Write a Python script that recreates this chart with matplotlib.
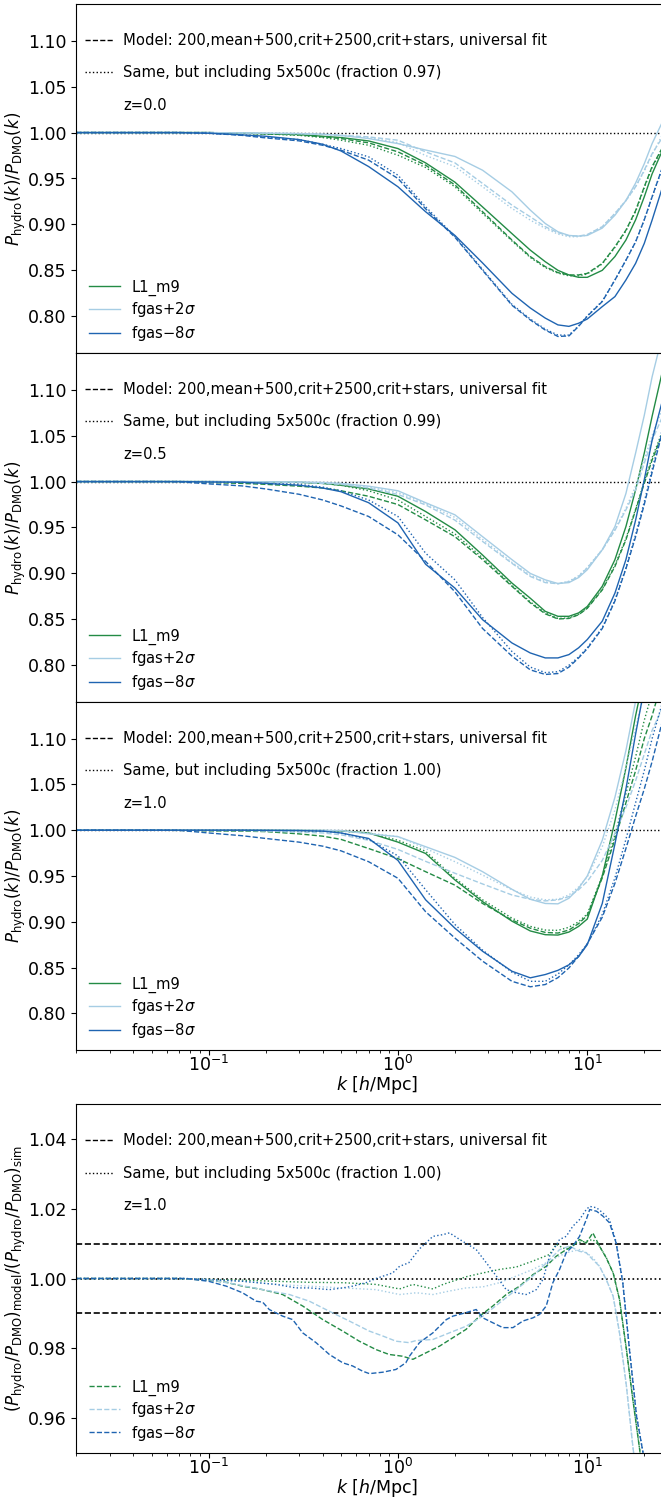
import matplotlib
matplotlib.use("Agg")
import matplotlib.pyplot as plt
from matplotlib.lines import Line2D

# ---------------------------------------------------------------- data
# common wavenumber grid for the three ratio panels [h/Mpc]
K = [0.02, 0.05, 0.07, 0.1, 0.15, 0.2, 0.3, 0.4, 0.5, 0.7, 1.0, 1.4, 2.0, 2.8,
     4.0, 5.0, 6.0, 7.0, 8.0, 9.0, 10, 12, 14, 16, 18, 20, 22, 25]

# z = 0.0 : simulation (solid), model (dashed), model incl. 5x500c (dotted)
Z00_SIM_L1 = [1.0, 1.0, 1.0, 1.0, 0.9993, 0.9989, 0.9978, 0.996, 0.9946, 0.9909, 0.9826, 0.967, 0.946, 0.919,
              0.890, 0.872, 0.8594, 0.850, 0.845, 0.8424, 0.8424, 0.850, 0.865, 0.883, 0.905, 0.930, 0.955, 0.981]
Z00_MOD_L1 = [1.0, 1.0, 1.0, 1.0, 0.9993, 0.9985, 0.9975, 0.9953, 0.9935, 0.9888, 0.979, 0.9645, 0.943, 0.9138,
              0.883, 0.865, 0.854, 0.8475, 0.845, 0.845, 0.8467, 0.8576, 0.8757, 0.8937, 0.915, 0.941, 0.963, 0.984]
Z00_M5C_L1 = [1.0, 1.0, 1.0, 1.0, 0.9993, 0.9985, 0.997, 0.9946, 0.9917, 0.9862, 0.9754, 0.962, 0.941, 0.912,
              0.882, 0.864, 0.853, 0.847, 0.844, 0.844, 0.846, 0.857, 0.875, 0.893, 0.914, 0.940, 0.962, 0.983]
Z00_SIM_P2 = [1.0, 1.0, 1.0, 1.0, 0.9996, 0.9993, 0.9989, 0.9982, 0.997, 0.9935, 0.988, 0.981, 0.974, 0.959,
              0.9355, 0.9156, 0.901, 0.892, 0.888, 0.8873, 0.888, 0.896, 0.910, 0.926, 0.945, 0.966, 0.988, 1.012]
Z00_MOD_P2 = [1.0, 1.0, 1.0, 1.0, 0.9996, 0.9993, 0.9989, 0.9982, 0.997, 0.9953, 0.9917, 0.979, 0.967, 0.9446,
              0.921, 0.9083, 0.8975, 0.891, 0.8877, 0.8873, 0.889, 0.8975, 0.912, 0.926, 0.941, 0.959, 0.977, 0.995]
Z00_M5C_P2 = [1.0, 1.0, 1.0, 1.0, 0.9996, 0.9993, 0.9989, 0.998, 0.9965, 0.9946, 0.989, 0.975, 0.963, 0.941,
              0.9174, 0.9047, 0.8957, 0.8895, 0.8866, 0.8866, 0.8885, 0.8975, 0.912, 0.926, 0.941, 0.958, 0.976, 0.998]
Z00_SIM_M8 = [1.0, 1.0, 1.0, 0.9993, 0.9975, 0.996, 0.9924, 0.9873, 0.980, 0.963, 0.941, 0.9138, 0.888, 0.858,
              0.825, 0.809, 0.798, 0.7906, 0.789, 0.7924, 0.797, 0.8105, 0.8214, 0.8395, 0.8576, 0.8793, 0.9047, 0.941]
Z00_MOD_M8 = [1.0, 1.0, 1.0, 0.9993, 0.997, 0.9942, 0.991, 0.9862, 0.9808, 0.970, 0.950, 0.917, 0.886, 0.850,
              0.812, 0.796, 0.785, 0.778, 0.7786, 0.789, 0.800, 0.816, 0.8395, 0.861, 0.881, 0.905, 0.930, 0.9627]
Z00_M5C_M8 = [1.0, 1.0, 1.0, 0.9993, 0.9975, 0.995, 0.9924, 0.9873, 0.9826, 0.9736, 0.9536, 0.9192, 0.887, 0.851,
              0.813, 0.797, 0.786, 0.7795, 0.7795, 0.7895, 0.8005, 0.8165, 0.8395, 0.861, 0.881, 0.905, 0.930, 0.962]

# z = 0.5
Z05_SIM_L1 = [1.0, 1.0, 1.0, 1.0, 0.9998, 0.9996, 0.9993, 0.998, 0.996, 0.992, 0.984, 0.9674, 0.9475, 0.920,
              0.8895, 0.873, 0.8587, 0.8533, 0.8533, 0.857, 0.864, 0.886, 0.915, 0.951, 0.991, 1.031, 1.071, 1.121]
Z05_MOD_L1 = [1.0, 1.0, 1.0, 0.999, 0.998, 0.997, 0.995, 0.993, 0.990, 0.984, 0.975, 0.9583, 0.940, 0.915,
              0.886, 0.868, 0.856, 0.8504, 0.851, 0.855, 0.862, 0.882, 0.9076, 0.9366, 0.969, 0.998, 1.0235, 1.0525]
Z05_M5C_L1 = [1.0, 1.0, 1.0, 1.0, 0.9996, 0.9993, 0.999, 0.998, 0.996, 0.990, 0.980, 0.962, 0.943, 0.917,
              0.887, 0.869, 0.857, 0.851, 0.8515, 0.8555, 0.8625, 0.883, 0.909, 0.938, 0.970, 1.0, 1.026, 1.055]
Z05_SIM_P2 = [1.0, 1.0, 1.0, 1.0, 1.0, 0.9998, 0.9996, 0.999, 0.998, 0.995, 0.990, 0.977, 0.9638, 0.940,
              0.915, 0.900, 0.893, 0.889, 0.890, 0.8955, 0.904, 0.9257, 0.951, 0.987, 1.031, 1.072, 1.114, 1.16]
Z05_MOD_P2 = [1.0, 1.0, 1.0, 1.0, 0.9996, 0.9993, 0.999, 0.998, 0.997, 0.993, 0.986, 0.9746, 0.958, 0.9348,
              0.911, 0.8967, 0.890, 0.8888, 0.891, 0.8967, 0.906, 0.9257, 0.947, 0.9692, 0.991, 1.020, 1.045, 1.071]
Z05_M5C_P2 = [1.0, 1.0, 1.0, 1.0, 0.9998, 0.9996, 0.9993, 0.999, 0.998, 0.994, 0.988, 0.976, 0.961, 0.937,
              0.912, 0.898, 0.891, 0.8888, 0.8915, 0.8975, 0.9065, 0.926, 0.948, 0.971, 0.995, 1.025, 1.05, 1.08]
Z05_SIM_M8 = [1.0, 1.0, 1.0, 0.9996, 0.9993, 0.998, 0.996, 0.993, 0.989, 0.977, 0.955, 0.910, 0.884, 0.8496,
              0.8243, 0.8134, 0.808, 0.808, 0.8116, 0.819, 0.828, 0.848, 0.8786, 0.915, 0.958, 1.002, 1.045, 1.089]
Z05_MOD_M8 = [1.0, 1.0, 0.9998, 0.9975, 0.9953, 0.992, 0.9862, 0.980, 0.9735, 0.962, 0.942, 0.913, 0.880, 0.840,
              0.810, 0.795, 0.790, 0.791, 0.798, 0.808, 0.818, 0.840, 0.870, 0.905, 0.94, 0.975, 1.01, 1.055]
Z05_M5C_M8 = [1.0, 1.0, 1.0, 0.9996, 0.999, 0.998, 0.997, 0.994, 0.990, 0.980, 0.962, 0.922, 0.893, 0.852,
              0.815, 0.798, 0.792, 0.793, 0.800, 0.809, 0.819, 0.841, 0.871, 0.906, 0.942, 0.978, 1.013, 1.058]

# z = 1.0
Z10_SIM_L1 = [1.0, 1.0, 1.0, 1.0, 1.0, 1.0, 0.9998, 0.9996, 0.9993, 0.997, 0.987, 0.9746, 0.9457, 0.922,
              0.9007, 0.890, 0.8859, 0.8855, 0.8888, 0.895, 0.903, 0.950, 1.010, 1.068, 1.125, 1.17, 1.21, 1.26]
Z10_MOD_L1 = [1.0, 1.0, 0.9998, 0.9993, 0.999, 0.9985, 0.996, 0.9935, 0.990, 0.980, 0.969, 0.9547, 0.940, 0.920,
              0.902, 0.893, 0.8884, 0.8877, 0.891, 0.898, 0.907, 0.948, 0.990, 1.030, 1.065, 1.10, 1.125, 1.165]
Z10_M5C_L1 = [1.0, 1.0, 1.0, 1.0, 1.0, 0.9998, 0.9996, 0.9993, 0.999, 0.997, 0.989, 0.977, 0.9475, 0.924,
              0.904, 0.895, 0.891, 0.8906, 0.894, 0.900, 0.9085, 0.950, 0.995, 1.04, 1.08, 1.12, 1.15, 1.19]
Z10_SIM_P2 = [1.0, 1.0, 1.0, 1.0, 1.0, 1.0, 1.0, 0.9998, 0.9996, 0.996, 0.993, 0.982, 0.9703, 0.9547,
              0.9355, 0.9246, 0.920, 0.9196, 0.9257, 0.9366, 0.950, 0.989, 1.036, 1.087, 1.141, 1.19, 1.24, 1.30]
Z10_MOD_P2 = [1.0, 1.0, 1.0, 0.9998, 0.9996, 0.999, 0.998, 0.997, 0.995, 0.989, 0.979, 0.966, 0.953, 0.9413,
              0.9293, 0.9246, 0.9228, 0.9239, 0.9275, 0.935, 0.944, 0.967, 0.9964, 1.025, 1.054, 1.083, 1.109, 1.134]
Z10_M5C_P2 = [1.0, 1.0, 1.0, 1.0, 1.0, 1.0, 1.0, 0.9998, 0.9996, 0.997, 0.993, 0.980, 0.9656, 0.951,
              0.935, 0.927, 0.924, 0.9246, 0.9293, 0.938, 0.949, 0.982, 1.022, 1.069, 1.112, 1.15, 1.19, 1.25]
Z10_SIM_M8 = [1.0, 1.0, 1.0, 1.0, 1.0, 0.9998, 0.9996, 0.999, 0.997, 0.991, 0.967, 0.924, 0.893, 0.8678,
              0.846, 0.8388, 0.8424, 0.847, 0.853, 0.862, 0.875, 0.920, 0.985, 1.045, 1.105, 1.155, 1.20, 1.25]
Z10_MOD_M8 = [1.0, 1.0, 0.9998, 0.997, 0.994, 0.991, 0.987, 0.9826, 0.9775, 0.9656, 0.9475, 0.911, 0.8822, 0.857,
              0.835, 0.829, 0.8315, 0.839, 0.8496, 0.8623, 0.876, 0.905, 0.942, 0.980, 1.015, 1.045, 1.075, 1.12]
Z10_M5C_M8 = [1.0, 1.0, 1.0, 1.0, 1.0, 0.9998, 0.9996, 0.999, 0.997, 0.990, 0.972, 0.935, 0.897, 0.869,
              0.845, 0.835, 0.835, 0.843, 0.853, 0.864, 0.876, 0.908, 0.948, 0.99, 1.03, 1.065, 1.10, 1.14]

# z = 1.0 : model / simulation, each curve on its own k sampling
RES_K_MOD_L1 = [0.02, 0.07, 0.1, 0.124, 0.151, 0.193, 0.246, 0.314, 0.401, 0.511, 0.625, 0.766, 0.897, 1.055,
                1.20, 1.41, 1.66, 1.95, 2.29, 2.70, 3.17, 3.73, 4.39, 5.16, 6.07, 6.86, 7.74, 8.39, 9.10, 9.88,
                10.7, 11.6, 12.6, 13.7, 14.8, 16.1, 17.4, 18.9, 20.5]
RES_MOD_L1 = [1.0, 1.0, 0.9995, 0.9989, 0.9978, 0.9968, 0.9954, 0.9921, 0.9882, 0.9849, 0.982, 0.9796, 0.9782,
              0.9777, 0.9768, 0.9787, 0.9806, 0.983, 0.9854, 0.9892, 0.9921, 0.9954, 0.9978, 1.0011, 1.0035,
              1.0064, 1.0083, 1.0093, 1.0112, 1.0102, 1.0131, 1.0093, 1.0059, 1.0016, 0.994, 0.9796, 0.9653,
              0.951, 0.935]
RES_K_M5C_L1 = [0.02, 0.07, 0.151, 0.227, 0.34, 0.511, 0.766, 1.02, 1.20, 1.53, 1.73, 2.29, 2.81, 3.44, 4.22,
                5.16, 6.32, 6.86, 7.74, 8.75, 9.88, 10.7, 11.6, 12.6, 13.7, 14.8, 16.1, 17.4, 18.9, 20.5]
RES_M5C_L1 = [1.0, 1.0, 0.9995, 0.9992, 0.9989, 0.9988, 0.9983, 0.997, 0.9983, 0.997, 0.9983, 1.0005, 1.0016,
              1.0026, 1.0033, 1.005, 1.0069, 1.0098, 1.0083, 1.0102, 1.0107, 1.0112, 1.0093, 1.006, 1.0016,
              0.994, 0.9796, 0.9653, 0.951, 0.935]
RES_K_MOD_P2 = [0.02, 0.07, 0.1, 0.14, 0.193, 0.267, 0.34, 0.434, 0.553, 0.706, 0.831, 0.977, 1.14, 1.25,
                1.53, 1.87, 2.29, 2.81, 3.44, 4.22, 5.16, 6.32, 7.14, 8.06, 9.10, 9.88, 10.7, 11.6, 12.6, 13.7,
                14.8, 16.1, 17.4, 18.5]
RES_MOD_P2 = [1.0, 1.0, 0.9997, 0.9983, 0.9968, 0.9954, 0.9935, 0.9906, 0.9878, 0.9849, 0.9835, 0.982, 0.9816,
              0.9822, 0.9825, 0.9844, 0.9863, 0.9892, 0.993, 0.9968, 1.0007, 1.0054, 1.0083, 1.0093, 1.0078,
              1.0074, 1.0054, 1.0035, 0.9997, 0.9949, 0.9844, 0.9691, 0.9519, 0.94]
RES_K_M5C_P2 = [0.02, 0.07, 0.151, 0.227, 0.34, 0.511, 0.766, 1.02, 1.25, 1.53, 1.87, 2.29, 2.81, 3.44,
                4.22, 5.16, 6.32, 7.74, 9.10, 9.88, 10.7, 11.6, 12.6, 13.7, 14.8, 16.1, 17.4, 18.5]
RES_M5C_P2 = [1.0, 1.0, 0.9992, 0.9983, 0.9978, 0.9973, 0.9968, 0.9954, 0.9959, 0.9954, 0.9964, 0.9973,
              0.9976, 0.9988, 1.0007, 1.0026, 1.005, 1.0074, 1.0083, 1.0074, 1.006, 1.0035, 0.9997, 0.9949,
              0.9844, 0.9691, 0.9519, 0.94]
RES_K_MOD_M8 = [0.02, 0.076, 0.1, 0.124, 0.151, 0.178, 0.193, 0.209, 0.246, 0.278, 0.314, 0.369, 0.434, 0.511,
                0.576, 0.651, 0.706, 0.831, 0.977, 1.10, 1.15, 1.30, 1.53, 1.80, 1.95, 2.29, 2.59, 2.81, 3.17,
                3.58, 4.05, 4.57, 5.16, 5.60, 6.07, 6.58, 7.14, 7.74, 8.39, 9.10, 9.88, 10.3, 11.2, 12.1, 13.1,
                14.2, 15.4, 16.7, 18.2, 19.7, 21.0]
RES_MOD_M8 = [1.0, 1.0, 0.9992, 0.9978, 0.9959, 0.9935, 0.9932, 0.9911, 0.9892, 0.9882, 0.9844, 0.9816,
              0.9782, 0.9758, 0.9749, 0.9734, 0.9727, 0.9731, 0.9739, 0.9758, 0.9777, 0.9816, 0.9844, 0.9882,
              0.9892, 0.9902, 0.9911, 0.9887, 0.9873, 0.9859, 0.9859, 0.9878, 0.9887, 0.9897, 0.9921, 0.9988,
              1.0026, 1.0074, 1.0093, 1.0121, 1.0169, 1.0198, 1.0193, 1.0179, 1.016, 1.0102, 0.9988, 0.9796,
              0.9605, 0.95, 0.94]
RES_K_M5C_M8 = [0.02, 0.076, 0.1, 0.151, 0.227, 0.29, 0.34, 0.434, 0.511, 0.576, 0.678, 0.766, 0.938, 1.02,
                1.14, 1.30, 1.53, 1.73, 1.87, 2.12, 2.59, 2.93, 3.31, 3.73, 4.22, 4.76, 5.38, 5.83, 6.32, 7.14,
                7.74, 8.39, 9.10, 9.88, 10.3, 11.2, 12.1, 13.1, 14.2, 15.4, 16.7, 18.2, 19.7, 21.0]
RES_M5C_M8 = [1.0, 1.0, 0.9997, 0.9992, 0.9983, 0.9973, 0.9973, 0.9968, 0.9973, 0.9978, 0.9988, 1.0, 1.0016,
              1.0035, 1.0045, 1.0085, 1.0121, 1.0126, 1.0131, 1.0112, 1.0083, 1.0045, 1.0007, 0.9968, 0.9959,
              0.9954, 0.9968, 0.9997, 1.0064, 1.0112, 1.0121, 1.015, 1.0169, 1.0198, 1.0207, 1.0203, 1.0188,
              1.0169, 1.0105, 0.999, 0.9798, 0.9607, 0.95, 0.94]

SIM_NAMES = ["L1_m9", "fgas$+2\\sigma$", "fgas$-8\\sigma$"]
COLORS = ["#238b45", "#a6cde4", "#1f64b1"]
FRACTIONS = ["0.97", "0.99", "1.00"]
REDSHIFTS = ["z=0.0", "z=0.5", "z=1.0"]
MODEL_LABEL = "Model: 200,mean+500,crit+2500,crit+stars, universal fit"
M5C_LABEL = "Same, but including 5x500c (fraction {})"

# ---------------------------------------------------------------- style
W, H, DPI = 661, 1499, 100
LW = 1.0
TICK_FS = 12.5
LEG_FS = 10.6
LABEL_FS = 12.0

fig = plt.figure(figsize=(W / DPI, H / DPI), dpi=DPI)

left = 76.3 / W
width = 601.3 / W          # k from 0.02 to 30 (axes run past the right edge)


def axes_from_px(top_px, bottom_px):
    return fig.add_axes([left, 1 - bottom_px / H, width, (bottom_px - top_px) / H])


def style_axes(ax, ylim, yticks):
    ax.set_xscale("log")
    ax.set_xlim(0.02, 30)
    ax.set_ylim(*ylim)
    ax.set_yticks(yticks)
    ax.tick_params(which="both", labelsize=TICK_FS, top=False, right=False)
    ax.tick_params(axis="x", which="major", pad=0.2)
    ax.spines["right"].set_visible(False)


def top_legend(ax, frac, zlab):
    handles = [Line2D([], [], color="k", ls="--", lw=LW),
               Line2D([], [], color="k", ls=":", lw=LW),
               Line2D([], [], ls="none")]
    labels = [MODEL_LABEL, M5C_LABEL.format(frac), zlab]
    leg = ax.legend(handles, labels, loc="upper left", bbox_to_anchor=(0.004, 0.934),
                    frameon=False, fontsize=LEG_FS, labelspacing=1.19, handlelength=2.0,
                    handletextpad=0.62, borderaxespad=0.0)
    ax.add_artist(leg)


def sim_legend(ax, ls):
    handles = [Line2D([], [], color=c, ls=ls, lw=LW) for c in COLORS]
    ax.legend(handles, SIM_NAMES, loc="lower left", bbox_to_anchor=(0.012, 0.012),
              frameon=False, fontsize=LEG_FS, labelspacing=0.31, handlelength=2.1,
              handletextpad=0.75, borderaxespad=0.0)


PANELS = [
    ((4, 353), (Z00_SIM_L1, Z00_SIM_P2, Z00_SIM_M8), (Z00_MOD_L1, Z00_MOD_P2, Z00_MOD_M8),
     (Z00_M5C_L1, Z00_M5C_P2, Z00_M5C_M8)),
    ((353, 702), (Z05_SIM_L1, Z05_SIM_P2, Z05_SIM_M8), (Z05_MOD_L1, Z05_MOD_P2, Z05_MOD_M8),
     (Z05_M5C_L1, Z05_M5C_P2, Z05_M5C_M8)),
    ((702, 1050), (Z10_SIM_L1, Z10_SIM_P2, Z10_SIM_M8), (Z10_MOD_L1, Z10_MOD_P2, Z10_MOD_M8),
     (Z10_M5C_L1, Z10_M5C_P2, Z10_M5C_M8)),
]

YLABEL_X = -0.081

for i, (span, sims, mods, m5cs) in enumerate(PANELS):
    ax = axes_from_px(*span)
    style_axes(ax, (0.76, 1.14), [0.80, 0.85, 0.90, 0.95, 1.00, 1.05, 1.10])
    ax.axhline(1.0, color="k", ls=":", lw=LW, zorder=1)
    for col, sim, mod, m5c in zip(COLORS, sims, mods, m5cs):
        ax.plot(K, sim, color=col, ls="-", lw=LW)
        ax.plot(K, mod, color=col, ls="--", lw=LW)
        ax.plot(K, m5c, color=col, ls=":", lw=LW)
    ax.set_ylabel(r"$P_{\rm hydro}(k)/P_{\rm DMO}(k)$", fontsize=LABEL_FS)
    ax.yaxis.set_label_coords(YLABEL_X, 0.5)
    top_legend(ax, FRACTIONS[i], REDSHIFTS[i])
    sim_legend(ax, "-")
    if i < 2:
        ax.tick_params(labelbottom=False)
    else:
        ax.set_xlabel(r"$k$ [$h$/Mpc]", fontsize=LABEL_FS + 0.5, labelpad=-1.0)

# model / simulation residuals at z = 1.0
ax = axes_from_px(1104.3, 1452.7)
style_axes(ax, (0.95, 1.05), [0.96, 0.98, 1.00, 1.02, 1.04])
for lev in (0.99, 1.01):
    ax.axhline(lev, color="k", ls="--", lw=1.2, zorder=1)
ax.axhline(1.0, color="k", ls=":", lw=1.2, zorder=1)
RES = [(RES_K_MOD_L1, RES_MOD_L1, RES_K_M5C_L1, RES_M5C_L1),
       (RES_K_MOD_P2, RES_MOD_P2, RES_K_M5C_P2, RES_M5C_P2),
       (RES_K_MOD_M8, RES_MOD_M8, RES_K_M5C_M8, RES_M5C_M8)]
for col, (km, vm, k5, v5) in zip(COLORS, RES):
    ax.plot(km, vm, color=col, ls="--", lw=LW)
    ax.plot(k5, v5, color=col, ls=":", lw=LW)
ax.set_ylabel(r"$(P_{\rm hydro}/P_{\rm DMO})_{\rm model}/(P_{\rm hydro}/P_{\rm DMO})_{\rm sim}$",
              fontsize=LABEL_FS)
ax.yaxis.set_label_coords(YLABEL_X, 0.5)
ax.set_xlabel(r"$k$ [$h$/Mpc]", fontsize=LABEL_FS + 0.5, labelpad=-1.0)
top_legend(ax, FRACTIONS[2], REDSHIFTS[2])
sim_legend(ax, "--")

fig.savefig("out.png", dpi=DPI)
